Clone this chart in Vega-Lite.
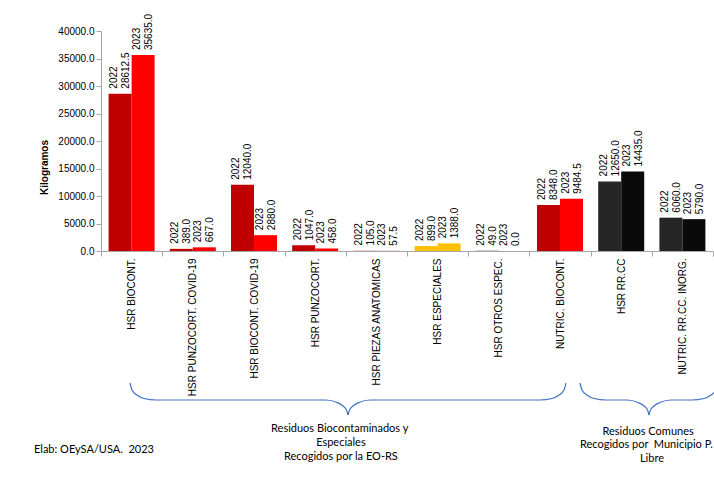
{
  "$schema": "https://vega.github.io/schema/vega-lite/v6.json",
  "background": "white",
  "autosize": {"type": "pad"},
  "padding": {"left": 33, "top": 13, "right": 0, "bottom": 0},
  "spacing": 132,
  "bounds": "flush",
  "config": {
    "view": {"stroke": null},
    "font": "Liberation Sans"
  },
  "resolve": {"scale": {"x": "independent", "y": "independent"}},
  "vconcat": [
    {
      "width": 612,
      "height": 220,
      "data": {
        "values": [
          {"cat": "HSR BIOCONT.", "year": "2022", "kg": 28612.5},
          {"cat": "HSR BIOCONT.", "year": "2023", "kg": 35635.0},
          {"cat": "HSR PUNZOCORT. COVID-19", "year": "2022", "kg": 389.0},
          {"cat": "HSR PUNZOCORT. COVID-19", "year": "2023", "kg": 667.0},
          {"cat": "HSR BIOCONT. COVID-19", "year": "2022", "kg": 12040.0},
          {"cat": "HSR BIOCONT. COVID-19", "year": "2023", "kg": 2880.0},
          {"cat": "HSR PUNZOCORT.", "year": "2022", "kg": 1047.0},
          {"cat": "HSR PUNZOCORT.", "year": "2023", "kg": 458.0},
          {"cat": "HSR PIEZAS ANATOMICAS", "year": "2022", "kg": 105.0},
          {"cat": "HSR PIEZAS ANATOMICAS", "year": "2023", "kg": 57.5},
          {"cat": "HSR ESPECIALES", "year": "2022", "kg": 899.0},
          {"cat": "HSR ESPECIALES", "year": "2023", "kg": 1388.0},
          {"cat": "HSR OTROS ESPEC.", "year": "2022", "kg": 49.0},
          {"cat": "HSR OTROS ESPEC.", "year": "2023", "kg": 0.0},
          {"cat": "NUTRIC. BIOCONT.", "year": "2022", "kg": 8348.0},
          {"cat": "NUTRIC. BIOCONT.", "year": "2023", "kg": 9484.5},
          {"cat": "HSR RR.CC", "year": "2022", "kg": 12650.0},
          {"cat": "HSR RR.CC", "year": "2023", "kg": 14435.0},
          {"cat": "NUTRIC. RR.CC. INORG.", "year": "2022", "kg": 6060.0},
          {"cat": "NUTRIC. RR.CC. INORG.", "year": "2023", "kg": 5790.0}
        ]
      },
      "encoding": {
        "x": {
          "field": "cat", "type": "nominal", "sort": null,
          "scale": {"paddingInner": 0, "paddingOuter": 0},
          "axis": {
            "title": null, "labelAngle": -90, "tickBand": "extent",
            "labelFontSize": 10, "labelPadding": 2, "tickSize": 5,
            "domainColor": "#A6A6A6", "tickColor": "#A6A6A6",
            "labelColor": "#000000", "labelLimit": 300
          }
        },
        "xOffset": {
          "field": "year", "type": "nominal",
          "scale": {"paddingInner": 0, "paddingOuter": 0.33}
        },
        "y": {
          "field": "kg", "type": "quantitative",
          "scale": {"domain": [0, 40000], "nice": false},
          "axis": {
            "title": "Kilogramos",
            "values": [0, 5000, 10000, 15000, 20000, 25000, 30000, 35000, 40000],
            "format": ".1f", "grid": false,
            "labelFontSize": 10, "labelColor": "#000000", "labelPadding": 2,
            "tickSize": 5, "domainColor": "#A6A6A6", "tickColor": "#A6A6A6",
            "titleFontSize": 10, "titleFontWeight": "bold", "titleColor": "#000000",
            "titlePadding": 8, "titleY": 136
          }
        }
      },
      "layer": [
        {
          "mark": {"type": "bar"},
          "encoding": {
            "color": {
              "condition": [
                {"test": "datum.cat === 'HSR ESPECIALES'", "value": "#FFC000"},
                {"test": "datum.cat === 'HSR PIEZAS ANATOMICAS'", "value": "#E89C9C"},
                {"test": "datum.cat === 'HSR OTROS ESPEC.'", "value": "#404040"},
                {"test": "(datum.cat === 'HSR RR.CC' || datum.cat === 'NUTRIC. RR.CC. INORG.') && datum.year === '2022'", "value": "#262626"},
                {"test": "(datum.cat === 'HSR RR.CC' || datum.cat === 'NUTRIC. RR.CC. INORG.') && datum.year === '2023'", "value": "#0A0A0A"}
              ],
              "field": "year", "type": "nominal",
              "scale": {"domain": ["2022", "2023"], "range": ["#C00000", "#FF0000"]},
              "legend": null
            }
          }
        },
        {
          "mark": {"type": "text", "angle": -90, "align": "left", "baseline": "middle", "dx": 5, "dy": -6, "fontSize": 10, "color": "#000000"},
          "encoding": {"text": {"field": "year", "type": "nominal"}}
        },
        {
          "mark": {"type": "text", "angle": -90, "align": "left", "baseline": "middle", "dx": 5, "dy": 6, "fontSize": 10, "color": "#000000"},
          "encoding": {"text": {"field": "kg", "type": "quantitative", "format": ".1f"}}
        }
      ]
    },
    {
      "width": 612,
      "height": 85,
      "layer": [
        {
          "data": {
            "values": [
              {"piece": "L1", "u": 0.474, "v": 0}, {"piece": "L1", "u": 0.507, "v": 7}, {"piece": "L1", "u": 0.588, "v": 12}, {"piece": "L1", "u": 0.703, "v": 15.5}, {"piece": "L1", "u": 0.899, "v": 17},
              {"piece": "L1", "u": 3.676, "v": 17}, {"piece": "L1", "u": 3.856, "v": 19.5}, {"piece": "L1", "u": 3.954, "v": 23}, {"piece": "L1", "u": 4.011, "v": 27}, {"piece": "L1", "u": 4.036, "v": 32},
              {"piece": "L2", "u": 4.036, "v": 32}, {"piece": "L2", "u": 4.061, "v": 27}, {"piece": "L2", "u": 4.118, "v": 23}, {"piece": "L2", "u": 4.216, "v": 19.5}, {"piece": "L2", "u": 4.396, "v": 17},
              {"piece": "L2", "u": 7.173, "v": 17}, {"piece": "L2", "u": 7.369, "v": 15.5}, {"piece": "L2", "u": 7.484, "v": 12}, {"piece": "L2", "u": 7.565, "v": 7}, {"piece": "L2", "u": 7.598, "v": 0},
              {"piece": "R1", "u": 7.827, "v": 0}, {"piece": "R1", "u": 7.859, "v": 7}, {"piece": "R1", "u": 7.941, "v": 12}, {"piece": "R1", "u": 8.056, "v": 15.5}, {"piece": "R1", "u": 8.252, "v": 17},
              {"piece": "R1", "u": 8.595, "v": 17}, {"piece": "R1", "u": 8.775, "v": 19.5}, {"piece": "R1", "u": 8.873, "v": 23}, {"piece": "R1", "u": 8.93, "v": 27}, {"piece": "R1", "u": 8.954, "v": 32},
              {"piece": "R2", "u": 8.954, "v": 32}, {"piece": "R2", "u": 8.979, "v": 27}, {"piece": "R2", "u": 9.036, "v": 23}, {"piece": "R2", "u": 9.134, "v": 19.5}, {"piece": "R2", "u": 9.314, "v": 17},
              {"piece": "R2", "u": 9.657, "v": 17}, {"piece": "R2", "u": 9.853, "v": 15.5}, {"piece": "R2", "u": 9.967, "v": 12}, {"piece": "R2", "u": 10.049, "v": 7}, {"piece": "R2", "u": 10.082, "v": 0}
            ]
          },
          "mark": {"type": "line", "interpolate": "monotone", "color": "#4472C4", "strokeWidth": 1.2},
          "encoding": {
            "x": {"field": "u", "type": "quantitative", "scale": {"domain": [0, 10], "nice": false, "zero": false}, "axis": null},
            "y": {"field": "v", "type": "quantitative", "scale": {"domain": [0, 85], "nice": false, "reverse": true}, "axis": null},
            "detail": {"field": "piece", "type": "nominal"}
          }
        },
        {
          "data": {
            "values": [
              {"t": "Residuos Biocontaminados y", "u": 3.9, "v": 46},
              {"t": "Especiales", "u": 3.92, "v": 60},
              {"t": "Recogidos por la EO-RS", "u": 3.92, "v": 74},
              {"t": "Residuos Comunes", "u": 8.94, "v": 49},
              {"t": "Libre", "u": 9.003, "v": 76}
            ]
          },
          "mark": {"type": "text", "font": "Lato", "fontSize": 11, "align": "center", "baseline": "middle", "color": "#000000"},
          "encoding": {
            "x": {"field": "u", "type": "quantitative"},
            "y": {"field": "v", "type": "quantitative"},
            "text": {"field": "t", "type": "nominal"}
          }
        },
        {
          "data": {
            "values": [
              {"t": "Elab: OEySA/USA.\u00a0 2023", "u": -1.095, "v": 67},
              {"t": "Recogidos por\u00a0 Municipio P.", "u": 7.827, "v": 62}
            ]
          },
          "mark": {"type": "text", "font": "Lato", "fontSize": 11, "align": "left", "baseline": "middle", "color": "#000000"},
          "encoding": {
            "x": {"field": "u", "type": "quantitative"},
            "y": {"field": "v", "type": "quantitative"},
            "text": {"field": "t", "type": "nominal"}
          }
        }
      ]
    }
  ]
}
